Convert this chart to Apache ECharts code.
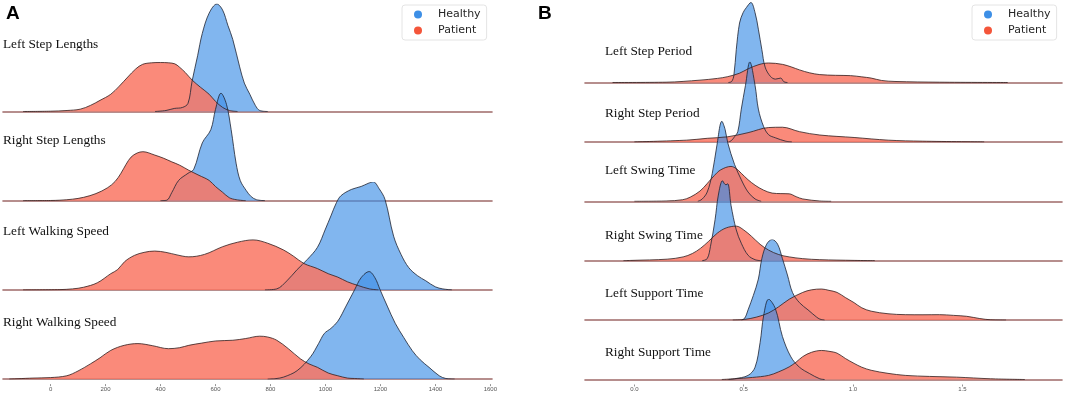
<!DOCTYPE html>
<html>
<head>
<meta charset="utf-8">
<script src="https://cdn.jsdelivr.net/npm/echarts@6/dist/echarts.min.js"></script>
<style>
  html, body { margin: 0; padding: 0; background: #fff; }
  #chart { width: 1065px; height: 399px; }
</style>
</head>
<body>
<div id="chart"></div>
<script>
// ---- data (x value, density, relative units) ----
// panel A
var labelsA = ['Left Step Lengths', 'Right Step Lengths', 'Left Walking Speed', 'Right Walking Speed'];
var ticksA = [0, 200, 400, 600, 800, 1000, 1200, 1400, 1600];

var healthyLeftStepLen = [[380,0],[420,1],[450,3],[480,4],[500,8],[515,30],[535,55],[552,77],[577,97],[605,106],[626,100],[645,85],[663,71],[688,44],[705,28],[725,17],[745,6],[761,1],[790,0]];
var patientLeftStepLen = [[-100,0],[0,0.3],[60,1],[108,2.3],[145,6],[180,11],[219,17],[250,25],[281,34],[310,42],[335,46.5],[367,48],[400,48.3],[430,48],[452,47],[468,44],[490,38.5],[515,31],[545,24],[577,17],[600,10],[626,4],[651,1],[680,0]];

var healthyRightStepLen = [[400,0],[423,0.5],[441,8],[466,20],[500,27],[521,31],[552,57],[583,70],[600,90],[620,106],[640,95],[657,70],[675,37],[690,20],[712,10],[730,4],[749,1],[780,0]];
var patientRightStepLen = [[-100,0],[0,0.2],[34,0.5],[80,1.5],[120,3.3],[165,7],[207,12.7],[235,19],[256,27],[275,36],[293,43],[315,47],[336,48.3],[379,45],[410,42],[441,38.3],[470,35],[503,30],[540,25],[577,20],[600,14],[626,8.3],[650,3],[675,1],[710,0]];

var healthyLeftSpeed = [[780,0],[823,1],[860,9],[897,20],[934,30],[971,42],[1000,60],[1020,73],[1040,86],[1057,93],[1094,99],[1130,102],[1155,105],[1174,106.6],[1195,100],[1217,89],[1248,53],[1275,35],[1303,22],[1335,14],[1365,9],[1400,3],[1427,1],[1460,0]];
var patientLeftSpeed = [[-100,0],[34,0.3],[80,1],[120,2.6],[170,7],[219,16],[244,20],[270,28],[305,34],[340,37],[379,38.3],[420,37],[460,34.5],[503,32.6],[560,35],[626,42.6],[680,47],[737,49.3],[790,46],[848,39.3],[885,33],[922,26],[971,21],[1010,16],[1045,12.6],[1080,8],[1119,4.3],[1160,1],[1193,0]];

var healthyRightSpeed = [[790,0],[820,0.5],[848,2],[897,8.3],[946,22],[975,35],[996,45],[1020,50],[1045,57],[1075,72],[1106,88],[1130,100],[1159,106],[1180,100],[1199,88],[1225,72],[1254,55],[1285,41],[1316,28],[1345,19],[1377,11.6],[1414,3.3],[1438,0.6],[1470,0]];
var patientRightSpeed = [[-150,0],[-64,1],[0,1.5],[59,3.3],[100,8],[145,15],[180,21],[219,28.3],[268,33.3],[318,35],[370,33],[429,30],[470,31],[503,33.3],[550,35.5],[601,37.6],[663,38.3],[710,40],[761,42.3],[790,41.5],[823,38.3],[865,30],[909,20],[940,15],[971,11.6],[1010,6],[1045,3.3],[1080,1],[1106,0.6],[1140,0]];

// panel B
var labelsB = ['Left Step Period', 'Right Step Period', 'Left Swing Time', 'Right Swing Time', 'Left Support Time', 'Right Support Time'];
var ticksB = [0, 0.5, 1.0, 1.5];

var healthyLeftStepPeriod = [[0.43,0],[0.445,1],[0.455,7],[0.466,32],[0.481,58],[0.497,68],[0.512,73],[0.533,78],[0.552,68],[0.567,52],[0.583,32],[0.598,15],[0.622,6],[0.645,3.3],[0.669,4.3],[0.684,0.7],[0.70,0]];
var patientLeftStepPeriod = [[-0.1,0],[0.145,0.3],[0.30,2.3],[0.38,4],[0.427,5.7],[0.48,9],[0.52,13.3],[0.57,17.5],[0.614,19],[0.677,17.7],[0.72,15],[0.755,12.3],[0.80,9.5],[0.848,7.7],[0.92,7],[0.989,6.7],[1.04,5.5],[1.083,4.3],[1.13,2],[1.192,1],[1.395,0.3],[1.708,0]];

var healthyRightStepPeriod = [[0.43,0],[0.442,1],[0.458,5],[0.473,10],[0.489,32],[0.508,55],[0.528,78],[0.552,55],[0.567,32],[0.591,15],[0.614,7],[0.645,4],[0.692,0.7],[0.72,0]];
var patientRightStepPeriod = [[0.0,0],[0.239,1.7],[0.333,3.5],[0.427,5],[0.52,9],[0.614,14],[0.677,14.3],[0.755,10],[0.848,6.7],[1.005,4.3],[1.161,1.7],[1.317,0.7],[1.6,0]];

var healthyLeftSwing = [[0.29,0],[0.309,2],[0.333,9],[0.356,27],[0.377,54],[0.40,78],[0.415,70],[0.427,57],[0.458,36],[0.489,21],[0.52,9],[0.552,2.3],[0.58,0]];
var patientLeftSwing = [[0.0,0],[0.145,0.3],[0.22,1.5],[0.255,4],[0.30,10],[0.333,17.3],[0.365,25],[0.395,30.7],[0.442,34],[0.465,32],[0.489,27.3],[0.52,21],[0.552,15.7],[0.59,11],[0.63,8],[0.67,7.5],[0.708,7.3],[0.74,4.5],[0.77,2.3],[0.848,0.3],[0.9,0]];

var healthyRightSwing = [[0.31,0],[0.333,2],[0.348,14],[0.369,40],[0.384,64],[0.403,78],[0.412,75],[0.419,74],[0.427,75],[0.442,54],[0.466,30],[0.489,17],[0.52,5.3],[0.552,1],[0.58,0]];
var patientRightSwing = [[-0.05,0],[-0.011,0.3],[0.15,1.5],[0.223,3.7],[0.265,7],[0.302,12],[0.34,19],[0.38,27],[0.42,32],[0.466,33.7],[0.50,30],[0.536,23.7],[0.575,16],[0.614,10.3],[0.66,6],[0.708,3.7],[0.77,2],[0.848,1],[1.005,0.3],[1.1,0]];

var healthyLeftSupport = [[0.49,0],[0.505,2],[0.52,10],[0.544,24],[0.567,40],[0.583,60],[0.605,74],[0.63,78.6],[0.655,74],[0.677,60],[0.70,44],[0.723,27],[0.755,17],[0.794,10],[0.833,3],[0.848,1],[0.87,0]];
var patientLeftSupport = [[0.45,0],[0.505,0.7],[0.56,3],[0.614,7],[0.66,13],[0.708,20.3],[0.77,27],[0.81,29.5],[0.856,30.3],[0.89,29],[0.927,27],[0.965,22],[1.005,17],[1.04,12],[1.083,8.7],[1.16,6.2],[1.239,5.3],[1.32,5.2],[1.395,5.3],[1.46,4.6],[1.52,3.7],[1.58,1.5],[1.63,0.3],[1.7,0]];

var healthyRightSupport = [[0.43,0],[0.458,0.7],[0.52,4],[0.552,12],[0.575,36],[0.591,62],[0.614,78.3],[0.645,69],[0.677,42],[0.716,22],[0.755,12],[0.802,5.7],[0.848,0.7],[0.87,0]];
var patientRightSupport = [[0.40,0],[0.458,0.7],[0.54,2],[0.614,4],[0.66,7.5],[0.708,12.3],[0.74,17],[0.77,22.3],[0.81,26.5],[0.856,28.3],[0.89,27.5],[0.927,25.7],[0.965,20.5],[1.005,15.7],[1.04,12],[1.083,9],[1.16,6],[1.239,4],[1.35,3],[1.473,2.3],[1.63,0.7],[1.786,0]];

var healthyA = [healthyLeftStepLen, healthyRightStepLen, healthyLeftSpeed, healthyRightSpeed];
var patientA = [patientLeftStepLen, patientRightStepLen, patientLeftSpeed, patientRightSpeed];
var healthyB = [healthyLeftStepPeriod, healthyRightStepPeriod, healthyLeftSwing, healthyRightSwing, healthyLeftSupport, healthyRightSupport];
var patientB = [patientLeftStepPeriod, patientRightStepPeriod, patientLeftSwing, patientRightSwing, patientLeftSupport, patientRightSupport];

// ---- layout ----
var panelA = { left: 3, width: 489, base0: 111.5, step: 89.2, h: 107.5, yMax: 106, min: -173, max: 1606,
  labelX: 3, labelY: [45, 140.8, 231.4, 322.5], ticks: ticksA, fmt: function (v) { return String(v); } };
var panelB = { left: 585, width: 477, base0: 82.5, step: 59.4, h: 80, yMax: 78, min: -0.226, max: 1.956,
  labelX: 605, labelY: [51.2, 114, 171, 236, 293.1, 352.5], ticks: ticksB, fmt: function (v) { return v.toFixed(1); } };

var blue = '#3d8fe6', red = '#f4553a';
var grids = [], xAxes = [], yAxes = [], series = [], graphics = [];

function buildPanel(p, labels, healthy, patient) {
  for (var i = 0; i < labels.length; i++) {
    var g = grids.length;
    var xi = xAxes.length;
    var base = p.base0 + p.step * i;
    grids.push({ left: p.left, width: p.width, top: base - p.h, height: p.h });
    xAxes.push({
      gridIndex: g, type: 'value', min: p.min, max: p.max,
      axisLine: { show: true, lineStyle: { color: '#9e6a68', width: 1.6 } },
      axisTick: { show: false }, axisLabel: { show: false }, splitLine: { show: false }
    });
    yAxes.push({ gridIndex: g, type: 'value', min: 0, max: p.yMax, show: false });
    series.push({
      type: 'line', name: 'Healthy', xAxisIndex: xi, yAxisIndex: g, data: healthy[i],
      smooth: 0.35, symbol: 'none', silent: true,
      itemStyle: { color: blue },
      lineStyle: { color: 'rgba(30,35,50,0.8)', width: 1 },
      areaStyle: { color: 'rgba(61,143,230,0.65)', opacity: 1 }
    });
    series.push({
      type: 'line', name: 'Patient', xAxisIndex: xi, yAxisIndex: g, data: patient[i],
      smooth: 0.35, symbol: 'none', silent: true,
      itemStyle: { color: red },
      lineStyle: { color: 'rgba(50,30,30,0.8)', width: 1 },
      areaStyle: { color: 'rgba(249,118,99,0.85)', opacity: 1 }
    });
    graphics.push({
      type: 'text', x: p.labelX, y: p.labelY[i], z: 100,
      style: { text: labels[i], fontFamily: '"Liberation Serif", "DejaVu Serif", serif', fontSize: 13.3, fill: '#111', verticalAlign: 'middle' }
    });
    if (i === labels.length - 1) {
      // tick labels sit a little below the last baseline
      xAxes.push({
        gridIndex: g, type: 'value', min: p.min, max: p.max, position: 'bottom', offset: 5,
        axisLine: { show: false }, splitLine: { show: false },
        axisTick: { show: true, length: 2, customValues: p.ticks, lineStyle: { color: '#777', width: 0.8 } },
        axisLabel: { show: true, customValues: p.ticks, fontSize: 6, color: '#555', margin: 2, formatter: p.fmt }
      });
    }
  }
}

buildPanel(panelA, labelsA, healthyA, patientA);
buildPanel(panelB, labelsB, healthyB, patientB);

graphics.push({ type: 'text', x: 6, y: 4, style: { text: 'A', fontFamily: '"Liberation Sans", Arial, sans-serif', fontSize: 19, fontWeight: 'bold', fill: '#000' } });
graphics.push({ type: 'text', x: 538, y: 4, style: { text: 'B', fontFamily: '"Liberation Sans", Arial, sans-serif', fontSize: 19, fontWeight: 'bold', fill: '#000' } });

function legendAt(left) {
  return {
    orient: 'vertical', left: left, top: 5, icon: 'circle',
    itemWidth: 8, itemHeight: 12, itemGap: 5,
    padding: [4, 6, 4, 12],
    borderColor: '#e4e4e4', borderWidth: 1, borderRadius: 3, backgroundColor: '#fff',
    selectedMode: false,
    data: [
      { name: 'Healthy', itemStyle: { color: blue, borderWidth: 0 } },
      { name: 'Patient', itemStyle: { color: red, borderWidth: 0 } }
    ],
    textStyle: { fontFamily: '"DejaVu Sans", sans-serif', fontSize: 11, color: '#262626', padding: [0, 0, 0, 11] }
  };
}

var chart = echarts.init(document.getElementById('chart'));
chart.setOption({
  animation: false,
  backgroundColor: '#fff',
  legend: [legendAt(402), legendAt(972)],
  grid: grids,
  xAxis: xAxes,
  yAxis: yAxes,
  series: series,
  graphic: graphics
});
</script>
</body>
</html>
